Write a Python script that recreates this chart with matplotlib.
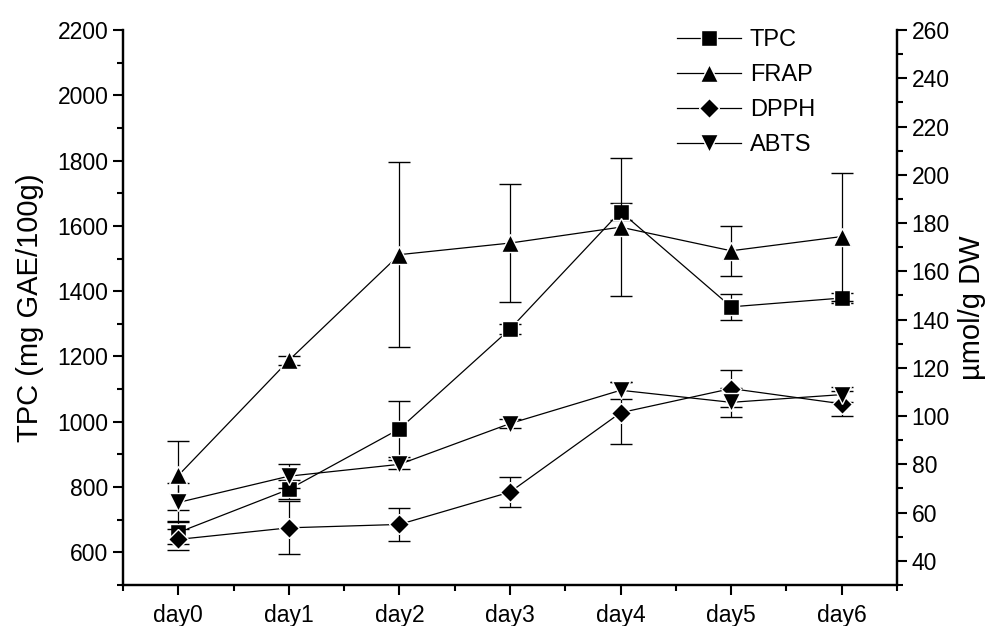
import matplotlib
matplotlib.use("Agg")
import matplotlib.pyplot as plt
from matplotlib.ticker import MultipleLocator
from matplotlib.lines import Line2D

plt.rcParams['font.family'] = ['Liberation Sans', 'DejaVu Sans']

days = ['day0', 'day1', 'day2', 'day3', 'day4', 'day5', 'day6']
tpc = [661, 793, 978, 1284, 1644, 1352, 1379]
tpc_err = [34, 30, 87, 15, 25, 40, 15]
frap = [75.4, 123.1, 166.9, 171.7, 178.3, 168.5, 174.4]
frap_err = [14.2, 2, 38.4, 24.5, 28.5, 10.4, 26.5]
dpph = [48.9, 53.7, 55.1, 68.5, 101.4, 111.4, 105.1]
dpph_err = [4.5, 11, 7, 6.3, 12.8, 7.6, 5.1]
abts = [64.2, 75.1, 80.0, 96.9, 110.7, 105.7, 108.9]
abts_err = [8, 5, 2, 2, 3.6, 6, 3]

x = list(range(len(days)))

fig = plt.figure(figsize=(9.89, 6.26), dpi=100)
ax = fig.add_axes([123/989, 1-585/626, (897-123)/989, (585-30)/626])
ax2 = ax.twinx()

common = dict(color='black', lw=0.9, elinewidth=0.9, capsize=8, capthick=0.9,
              mec='white', mew=1.0)
ax.errorbar(x, tpc, yerr=tpc_err, marker='s', ms=11.5, **common)
ax2.errorbar(x, frap, yerr=frap_err, marker='^', ms=13.5, **common)
ax2.errorbar(x, dpph, yerr=dpph_err, marker='D', ms=10.5, **common)
ax2.errorbar(x, abts, yerr=abts_err, marker='v', ms=13.5, **common)

ax.set_xlim(-0.5, 6.5)
ax.set_ylim(500, 2200)
ax2.set_ylim(30, 260)

ax.set_xticks(x)
ax.set_xticklabels(days)
ax.xaxis.set_minor_locator(MultipleLocator(0.5))
ax.yaxis.set_major_locator(MultipleLocator(200))
ax.yaxis.set_minor_locator(MultipleLocator(100))
ax2.yaxis.set_major_locator(MultipleLocator(20))
ax2.yaxis.set_minor_locator(MultipleLocator(10))

for a in (ax, ax2):
    a.spines['top'].set_visible(False)
    for s in ('left', 'right', 'bottom'):
        a.spines[s].set_linewidth(1.6)
    a.tick_params(which='major', direction='out', length=7, width=1.5, labelsize=16.5)
    a.tick_params(which='minor', direction='out', length=4, width=1.5)
ax.tick_params(axis='x', which='major', pad=7)

ax.set_ylabel('TPC (mg GAE/100g)', fontsize=21, labelpad=10)
ax2.set_ylabel('µmol/g DW', fontsize=21, labelpad=6)

handles = [
    Line2D([], [], color='black', lw=0.9, marker='s', ms=11.5, mec='white', mew=1.0),
    Line2D([], [], color='black', lw=0.9, marker='^', ms=13.5, mec='white', mew=1.0),
    Line2D([], [], color='black', lw=0.9, marker='D', ms=10.5, mec='white', mew=1.0),
    Line2D([], [], color='black', lw=0.9, marker='v', ms=13.5, mec='white', mew=1.0),
]
ax2.legend(handles, ['TPC', 'FRAP', 'DPPH', 'ABTS'], loc='upper left',
           bbox_to_anchor=(0.688, 1.04), frameon=False, fontsize=17,
           handlelength=2.7, numpoints=1, labelspacing=0.55, handletextpad=0.4)

fig.savefig('out.png', dpi=100, facecolor='white')
